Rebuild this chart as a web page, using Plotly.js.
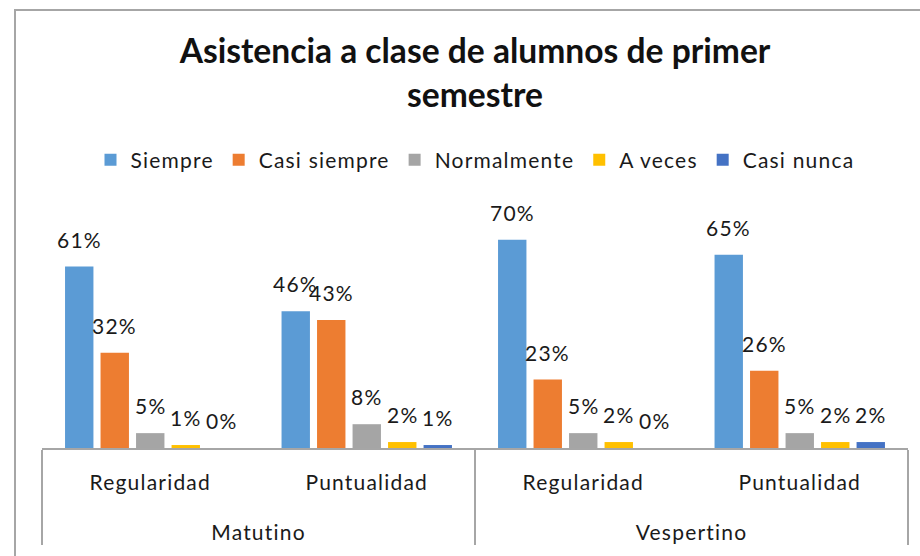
<!DOCTYPE html>
<html><head><meta charset="utf-8">
<script src="https://cdn.plot.ly/plotly-3.0.1.min.js"></script>
<style>
html,body{margin:0;padding:0;overflow:hidden;background:#fff}
#chart{width:920px;height:556px;position:absolute;left:0;top:0}
#frame{position:absolute;left:14px;top:9px;width:1000px;height:1000px;border-left:2px solid #a6a6a6;border-top:2px solid #a6a6a6;pointer-events:none}
svg text{letter-spacing:1.2px}
svg .gtitle{letter-spacing:0}
g.xtick2{transform:translateY(10px)}
</style></head><body>
<div id="chart"></div><div id="frame"></div>
<script>
const turnos = ['Matutino','Matutino','Vespertino','Vespertino'];
const aspectos = ['Regularidad','Puntualidad','Regularidad','Puntualidad'];
const seriesNames = ['Siempre','Casi siempre','Normalmente','A veces','Casi nunca'];
const siempre = [61,46,70,65];
const casiSiempre = [32,43,23,26];
const normalmente = [5,8,5,5];
const aVeces = [1,2,2,2];
const casiNunca = [0,1,0,2];
const colors = ['#5B9BD5','#ED7D31','#A5A5A5','#FFC000','#4472C4'];

const FONT = 'Lato, "Open Sans", sans-serif';
const TXT = '#1a1a1a';
const bargap = 0.18;
const seriesData = [siempre, casiSiempre, normalmente, aVeces, casiNunca];
// outer level shown one line lower (extra space between the two label rows)
const outerLevel = turnos.map(t => '<br>' + t);

const traces = seriesData.map((vals, j) => ({
  type: 'bar',
  name: seriesNames[j],
  x: [outerLevel, aspectos],
  y: vals,
  marker: {color: colors[j]},
  hoverinfo: 'none'
}));

const annotations = [];
seriesData.forEach((vals, j) => vals.forEach((v, i) => {
  annotations.push({
    x: i + (j - (seriesData.length - 1) / 2) * (1 - bargap) / seriesData.length,
    y: v, xref: 'x', yref: 'y',
    text: v + '%', showarrow: false, yanchor: 'bottom', yshift: 13,
    font: {family: FONT, size: 21, color: TXT}
  });
}));

const layout = {
  width: 920, height: 556,
  margin: {l: 42, r: 12, t: 210, b: 108},
  paper_bgcolor: '#fff', plot_bgcolor: '#fff',
  title: {
    text: 'Asistencia a clase de alumnos de primer<br>semestre',
    font: {family: FONT, size: 33.6, color: '#111', weight: 'bold'},
    xref: 'paper', x: 0.5, xanchor: 'center',
    yref: 'container', y: 1 - 63/556, yanchor: 'top'
  },
  barmode: 'group', bargap: bargap, bargroupgap: 0.2,
  showlegend: true,
  legend: {
    orientation: 'h', x: 0.5, xanchor: 'center', y: 1.21, yanchor: 'middle',
    font: {family: FONT, size: 21, color: TXT},
    traceorder: 'normal'
  },
  xaxis: {
    type: 'multicategory',
    showline: true, linecolor: '#a6a6a6', linewidth: 2,
    showdividers: true, dividercolor: '#a6a6a6', dividerwidth: 2,
    ticks: '', showgrid: false, ticklabelstandoff: 15,
    tickfont: {family: FONT, size: 21, color: TXT}
  },
  yaxis: {
    range: [0, 80], visible: false, showgrid: false, zeroline: false
  },
  annotations: annotations
};

Plotly.newPlot('chart', traces, layout, {displayModeBar: false, staticPlot: true});
</script>
</body></html>
